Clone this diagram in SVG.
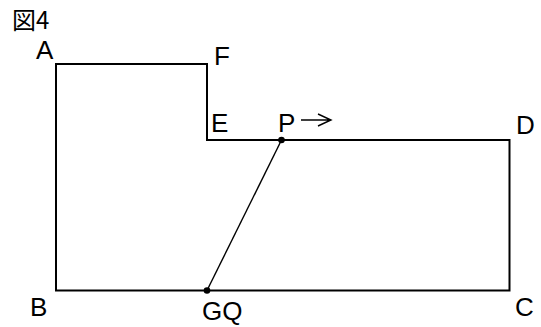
<svg xmlns="http://www.w3.org/2000/svg" width="541" height="327" viewBox="0 0 541 327">
<style>
.lbl{font-family:"Liberation Sans",Arial,sans-serif;font-size:26px;fill:#000}
.title{font-family:"Noto Sans CJK JP","Liberation Sans",sans-serif;font-size:24px;fill:#000}
.edge{fill:none;stroke:#000;stroke-width:2}
.thin{fill:none;stroke:#000;stroke-width:1.4}
</style>
<rect width="541" height="327" fill="#fff"/>
<text class="title" x="12" y="29">図4</text>
<g id="shape">
<path class="edge" d="M56,64 H207 V140 H509.5 V290.5 H56 Z"/>
</g>
<g id="connectors">
<line class="thin" x1="281.5" y1="140" x2="207" y2="290.5"/>
<path class="thin" d="M301,120 H330 M318,114 L331,120 L318,126"/>
</g>
<g id="P"><circle cx="281.5" cy="140" r="3.3" fill="#000"/><text class="lbl" x="278" y="132">P</text></g>
<g id="G"><circle cx="207" cy="290.5" r="3.3" fill="#000"/><text class="lbl" x="202" y="320">GQ</text></g>
<g id="A"><text class="lbl" x="36" y="59">A</text></g>
<g id="F"><text class="lbl" x="214" y="65">F</text></g>
<g id="E"><text class="lbl" x="211" y="132">E</text></g>
<g id="D"><text class="lbl" x="516" y="134">D</text></g>
<g id="C"><text class="lbl" x="515" y="316">C</text></g>
<g id="B"><text class="lbl" x="30" y="316">B</text></g>
</svg>
